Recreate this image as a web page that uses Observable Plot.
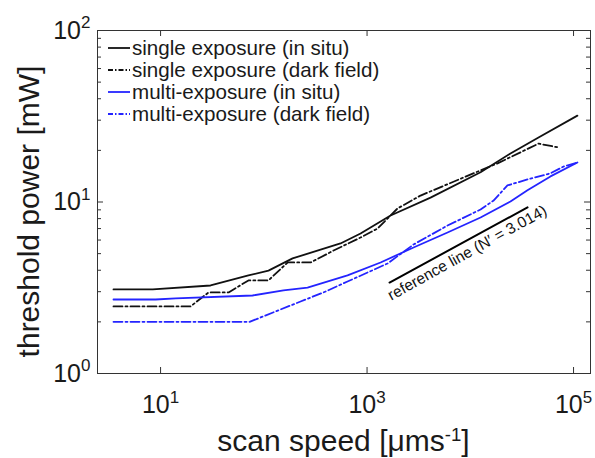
<!DOCTYPE html>
<html><head><meta charset="utf-8">
<script src="https://cdn.jsdelivr.net/npm/d3@7"></script>
<script src="https://cdn.jsdelivr.net/npm/@observablehq/plot@0.6"></script>
<style>
body{margin:0;background:#fff;}
#chart svg{font-family:"Liberation Sans",Arial,Helvetica,sans-serif;}
</style></head><body><div id="chart"></div>
<script>
// ---- data ----
const seriesNames = ["single exposure (in situ)", "single exposure (dark field)", "multi-exposure (in situ)", "multi-exposure (dark field)"];

const singleInSituX = [3.5, 8.4, 30.5, 71, 111, 190, 553, 865, 1690, 4120, 12570, 24500, 45800, 109000];
const singleInSituY = [3.09, 3.09, 3.26, 3.73, 3.98, 4.69, 5.73, 6.55, 8.34, 10.6, 14.9, 19.2, 23.8, 31.9];

const singleDarkX = [3.5, 19.5, 29.2, 45.6, 71, 111, 170, 284, 474, 865, 1265, 1974, 3296, 8600, 18370, 45800, 71600];
const singleDarkY = [2.46, 2.46, 2.97, 2.97, 3.49, 3.49, 4.44, 4.44, 5.21, 6.21, 7.0, 9.17, 10.9, 13.9, 16.8, 21.9, 20.8];

const multiInSituX = [3.5, 8.95, 14.0, 77.8, 155, 265, 647, 1352, 2820, 6020, 12570, 24500, 35800, 59800, 109000];
const multiInSituY = [2.70, 2.70, 2.74, 2.85, 3.05, 3.17, 3.73, 4.44, 5.43, 6.64, 8.12, 10.07, 11.7, 14.1, 17.0];

const multiDarkX = [3.5, 72.8, 227, 379, 647, 1012, 1580, 2820, 6020, 12570, 16800, 22900, 38400, 59800, 80000, 109000];
const multiDarkY = [2.0, 2.0, 2.63, 2.97, 3.44, 3.88, 4.38, 5.65, 7.29, 9.04, 10.2, 12.5, 13.7, 14.7, 16.1, 17.0];

const refLineX = [1652, 35850];
const refLineY = [3.39, 9.3];
const refLabel = ["reference line (N\u2032 = 3.014)"];
const refLabelX = [1720];
const refLabelY = [2.66];

const xTicks = [10, 1000, 100000];
const yTicks = [1, 10, 100];
const yMinorTicks = [2, 3, 4, 5, 6, 7, 8, 9, 20, 30, 40, 50, 60, 70, 80, 90];
const xTitle = "scan speed [\u03BCms";
const xTitleSup = "-1";
const yTitle = "threshold power [mW]";

// ---- layout ----
const W = 595, H = 458, mL = 97, mR = 5, mT = 30, mB = 85;
const plotW = W - mL - mR, plotH = H - mT - mB;
const black = "#111", blue = "#2424ff", axisCol = "#333";
const dashDot = "9,3,2,3";

const rows = (xs, ys) => xs.map((x, i) => ({x, y: ys[i]}));
const fmt = d => `10^${Math.round(Math.log10(d))}`;

const chart = Plot.plot({
  width: W, height: H,
  marginLeft: mL, marginRight: mR, marginTop: mT, marginBottom: mB,
  style: {background: "#fff", color: "#1a1a1a", fontFamily: '"Liberation Sans",Arial,Helvetica,sans-serif', overflow: "visible"},
  x: {type: "log", domain: [2.45, 146000]},
  y: {type: "log", domain: [1, 100]},
  marks: [
    Plot.frame({stroke: axisCol, strokeWidth: 1}),
    // inward ticks
    Plot.ruleX(xTicks, {x: d => d, insetTop: plotH - 6, stroke: axisCol}),
    Plot.ruleX(xTicks, {x: d => d, insetBottom: plotH - 6, stroke: axisCol}),
    Plot.ruleY(yTicks, {y: d => d, insetRight: plotW - 6, stroke: axisCol}),
    Plot.ruleY(yTicks, {y: d => d, insetLeft: plotW - 6, stroke: axisCol}),
    Plot.ruleY(yMinorTicks, {y: d => d, insetRight: plotW - 4, stroke: axisCol}),
    Plot.ruleY(yMinorTicks, {y: d => d, insetLeft: plotW - 4, stroke: axisCol}),
    Plot.axisX(xTicks, {tickSize: 0, tickPadding: 22, tickFormat: fmt, fontSize: 25, label: null}),
    Plot.axisY(yTicks, {tickSize: 0, tickPadding: 7, tickFormat: fmt, fontSize: 25, label: null}),
    // data
    Plot.line(rows(singleInSituX, singleInSituY), {x: "x", y: "y", stroke: black, strokeWidth: 1.8}),
    Plot.line(rows(singleDarkX, singleDarkY), {x: "x", y: "y", stroke: black, strokeWidth: 1.8, strokeDasharray: dashDot}),
    Plot.line(rows(multiInSituX, multiInSituY), {x: "x", y: "y", stroke: blue, strokeWidth: 1.8}),
    Plot.line(rows(multiDarkX, multiDarkY), {x: "x", y: "y", stroke: blue, strokeWidth: 1.8, strokeDasharray: dashDot}),
    // reference line
    Plot.line(rows(refLineX, refLineY), {x: "x", y: "y", stroke: "#000", strokeWidth: 2}),
    Plot.text(refLabel.map((t, i) => ({t, x: refLabelX[i], y: refLabelY[i]})), {x: "x", y: "y", text: "t", rotate: -29, textAnchor: "start", lineAnchor: "bottom", fontSize: 15.5, fill: "#111"})
  ]
});

document.getElementById("chart").appendChild(chart);
const svg = d3.select(chart);

// superscript exponents in tick labels
svg.selectAll("text").each(function () {
  const t = d3.select(this);
  if (t.selectAll("tspan").size() > 0) return;
  const m = (t.text() || "").match(/^10\^(-?\d+)$/);
  if (!m) return;
  t.text("10");
  t.append("tspan").attr("dy", "-0.6em").attr("font-size", "0.68em").text(m[1]);
});

// axis titles
const xt = svg.append("text").attr("x", mL + plotW / 2).attr("y", 451)
  .attr("text-anchor", "middle").attr("font-size", 30).attr("fill", "#1a1a1a").text(xTitle);
xt.append("tspan").attr("dy", "-0.55em").attr("font-size", "0.62em").text(xTitleSup);
xt.append("tspan").attr("dy", "0.34em").text("]");

svg.append("text").attr("transform", `translate(39,${mT + plotH / 2 + 10}) rotate(-90)`)
  .attr("text-anchor", "middle").attr("font-size", 30).attr("fill", "#1a1a1a").text(yTitle);

// legend
const leg = svg.append("g").attr("text-anchor", "start");
const legStyles = [
  {stroke: black, dash: null},
  {stroke: black, dash: "5,2,1.5,2"},
  {stroke: blue, dash: null},
  {stroke: blue, dash: "5,2,1.5,2"}
];
seriesNames.forEach((name, i) => {
  const cy = 48 + i * 22;
  leg.append("line").attr("x1", 108).attr("x2", 130).attr("y1", cy).attr("y2", cy)
    .attr("stroke", legStyles[i].stroke).attr("stroke-width", 1.8)
    .attr("stroke-dasharray", legStyles[i].dash);
  leg.append("text").attr("x", 132).attr("y", cy + 6.5).attr("font-size", 20.6)
    .attr("text-anchor", "start").attr("fill", "#1a1a1a").text(name);
});
</script>
</body></html>
